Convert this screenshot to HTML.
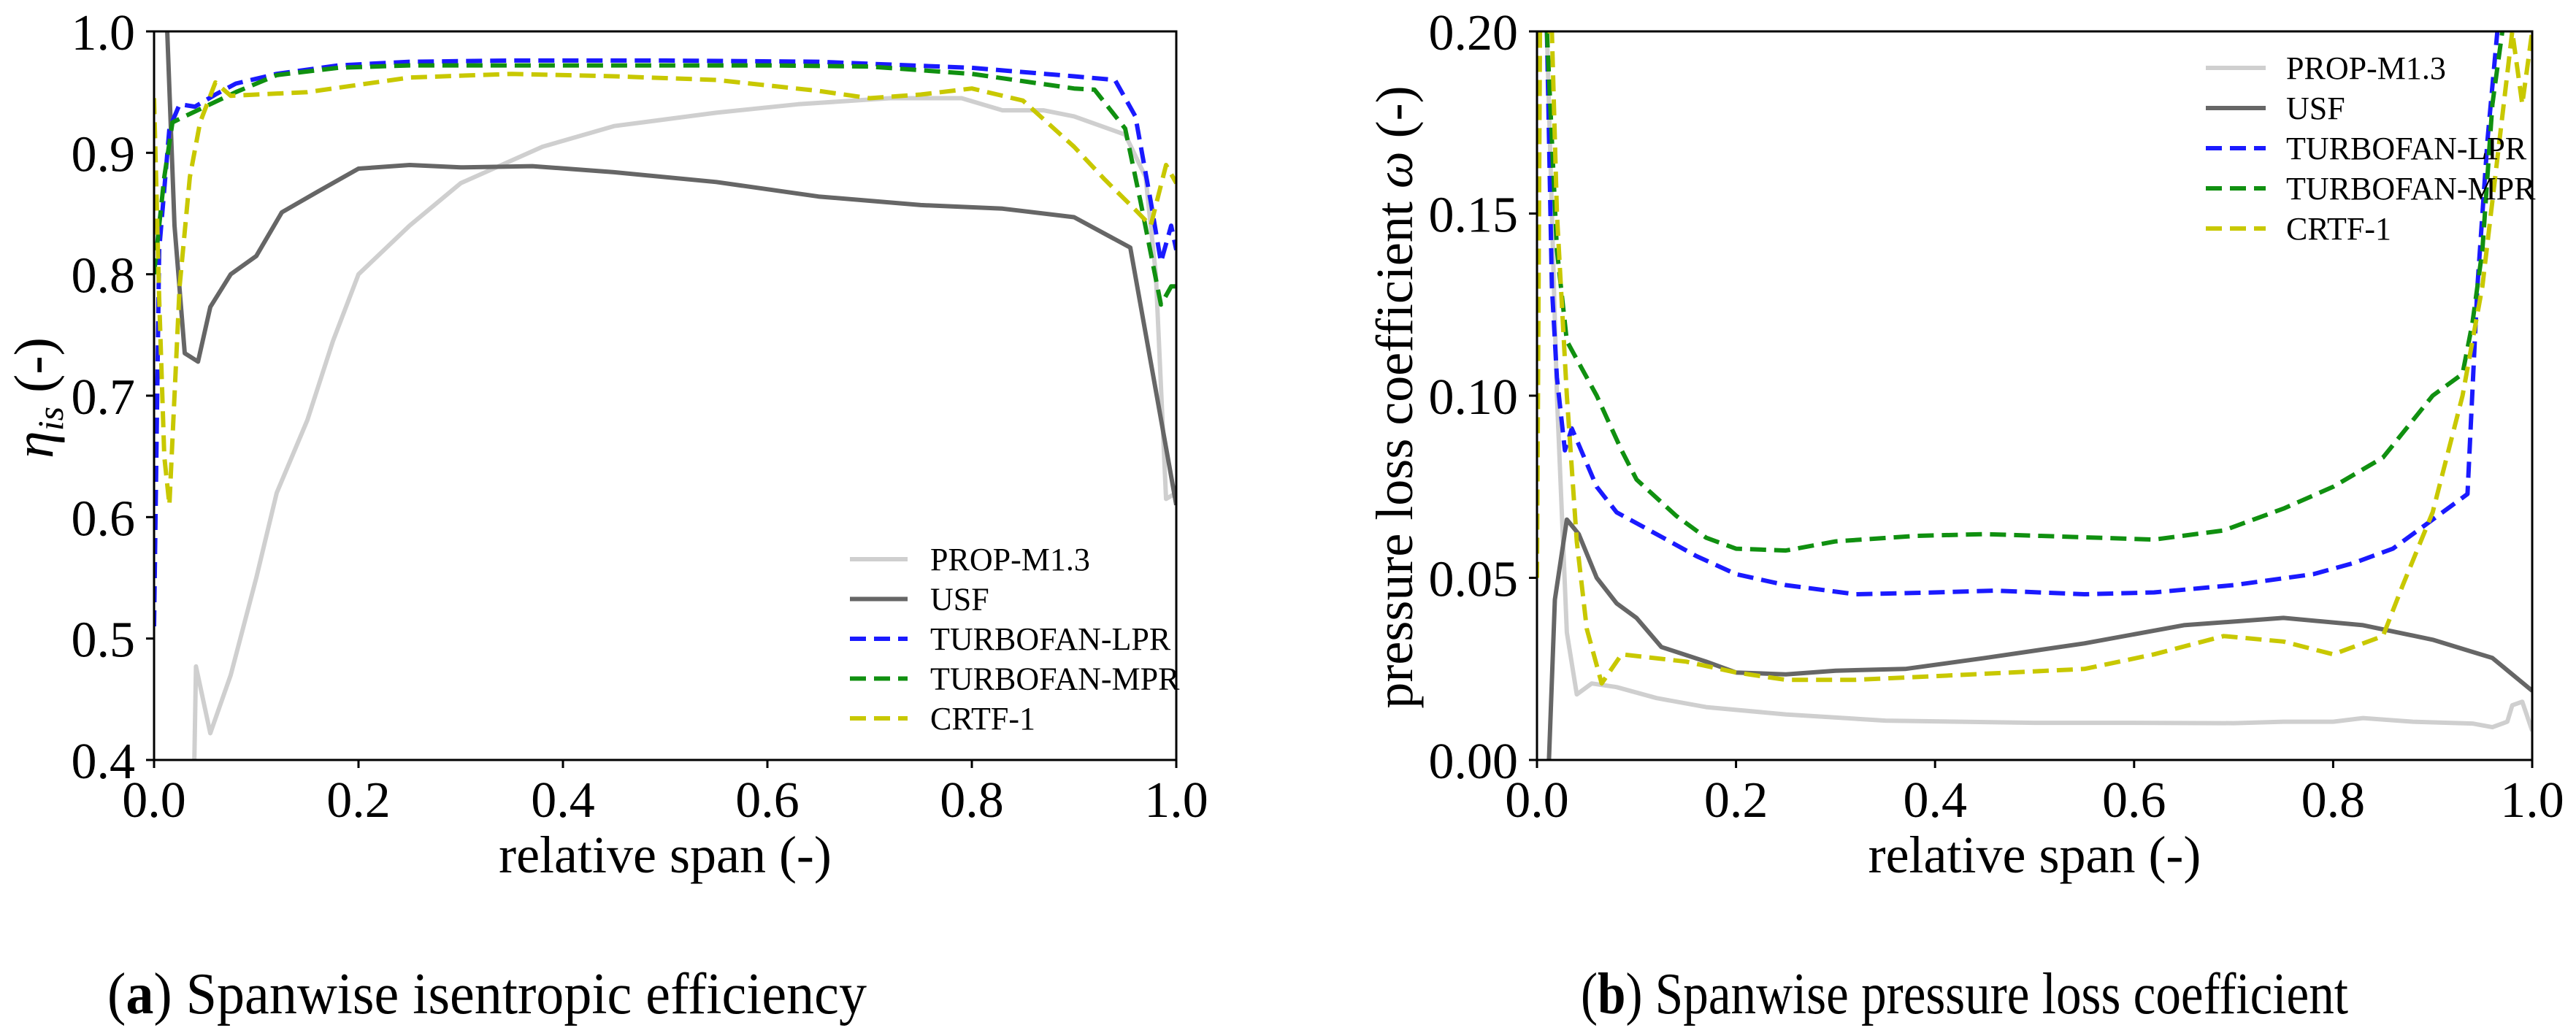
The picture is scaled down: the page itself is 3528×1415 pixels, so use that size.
<!DOCTYPE html>
<html><head><meta charset="utf-8"><style>
html,body{margin:0;padding:0;background:#fff;}
svg{display:block;font-family:"Liberation Serif",serif;}
</style></head><body>
<svg id="fig" width="3528" height="1415" viewBox="0 0 3528 1415">
<defs>
<clipPath id="clipA"><rect x="211" y="43" width="1400" height="998"/></clipPath>
<clipPath id="clipB"><rect x="2105" y="43" width="1363" height="998"/></clipPath>
</defs>
<g id="panelA"></g>
<g id="panelB"></g>
<text x="147" y="1388" font-size="80" textLength="1040" lengthAdjust="spacingAndGlyphs" font-family="Liberation Serif, serif">(<tspan font-weight="bold">a</tspan>) Spanwise isentropic efficiency</text>
<text x="2165" y="1388" font-size="80" textLength="1051" lengthAdjust="spacingAndGlyphs" font-family="Liberation Serif, serif">(<tspan font-weight="bold">b</tspan>) Spanwise pressure loss coefficient</text>
</svg>
<script>
const seriesNames = ["PROP-M1.3","USF","TURBOFAN-LPR","TURBOFAN-MPR","CRTF-1"];
const seriesColors = ["#cfcfcf","#666666","#1a1aff","#109010","#c8c800"];
const seriesDashed = [false,false,true,true,true];

const effProp = [[0.039,0.38],[0.041,0.477],[0.055,0.422],[0.075,0.47],[0.1,0.55],[0.12,0.62],[0.15,0.68],[0.175,0.745],[0.2,0.80],[0.25,0.84],[0.3,0.875],[0.38,0.905],[0.45,0.922],[0.55,0.933],[0.63,0.94],[0.72,0.945],[0.79,0.945],[0.83,0.935],[0.87,0.935],[0.9,0.93],[0.95,0.915],[0.97,0.88],[0.98,0.80],[0.99,0.615],[1.0,0.62]];
const effUsf = [[0.012,1.02],[0.02,0.84],[0.03,0.735],[0.043,0.728],[0.055,0.773],[0.075,0.80],[0.1,0.815],[0.125,0.851],[0.16,0.868],[0.2,0.887],[0.25,0.890],[0.3,0.888],[0.37,0.889],[0.45,0.884],[0.55,0.876],[0.65,0.864],[0.75,0.857],[0.83,0.854],[0.9,0.847],[0.955,0.822],[1.0,0.61]];
const effLpr = [[0.0,0.51],[0.005,0.82],[0.015,0.92],[0.025,0.94],[0.04,0.938],[0.06,0.948],[0.08,0.957],[0.12,0.965],[0.18,0.972],[0.25,0.975],[0.35,0.976],[0.5,0.976],[0.65,0.975],[0.8,0.970],[0.9,0.963],[0.94,0.960],[0.96,0.93],[0.975,0.86],[0.985,0.81],[0.995,0.84],[1.0,0.82]];
const effMpr = [[0.0,0.80],[0.01,0.88],[0.018,0.925],[0.03,0.93],[0.05,0.938],[0.08,0.95],[0.12,0.964],[0.18,0.970],[0.25,0.972],[0.4,0.972],[0.6,0.972],[0.7,0.971],[0.8,0.965],[0.9,0.953],[0.92,0.952],[0.95,0.92],[0.965,0.86],[0.985,0.775],[0.995,0.79],[1.0,0.79]];
const effCrtf = [[0.0,0.945],[0.005,0.78],[0.01,0.65],[0.015,0.61],[0.025,0.79],[0.035,0.88],[0.045,0.925],[0.06,0.958],[0.075,0.947],[0.1,0.948],[0.15,0.95],[0.2,0.956],[0.25,0.962],[0.35,0.965],[0.45,0.963],[0.55,0.96],[0.65,0.951],[0.7,0.945],[0.75,0.948],[0.8,0.953],[0.85,0.943],[0.9,0.905],[0.93,0.878],[0.96,0.853],[0.975,0.84],[0.99,0.89],[1.0,0.875]];

const lossProp = [[0.01,0.2],[0.02,0.10],[0.03,0.035],[0.04,0.018],[0.055,0.021],[0.08,0.020],[0.12,0.017],[0.17,0.0145],[0.25,0.0125],[0.35,0.0108],[0.5,0.0102],[0.6,0.0102],[0.7,0.0101],[0.75,0.0105],[0.8,0.0105],[0.83,0.0115],[0.88,0.0105],[0.94,0.010],[0.96,0.009],[0.975,0.0105],[0.98,0.015],[0.99,0.016],[1.0,0.008]];
const lossUsf = [[0.012,0.0],[0.018,0.044],[0.03,0.066],[0.042,0.062],[0.06,0.05],[0.08,0.043],[0.1,0.039],[0.125,0.031],[0.17,0.027],[0.2,0.024],[0.25,0.0235],[0.3,0.0245],[0.37,0.025],[0.45,0.028],[0.55,0.032],[0.65,0.037],[0.75,0.039],[0.83,0.037],[0.9,0.033],[0.96,0.028],[1.0,0.019]];
const lossLpr = [[0.01,0.2],[0.015,0.13],[0.02,0.105],[0.028,0.085],[0.035,0.091],[0.06,0.075],[0.08,0.068],[0.12,0.062],[0.16,0.056],[0.2,0.051],[0.25,0.048],[0.32,0.0455],[0.4,0.046],[0.46,0.0465],[0.55,0.0455],[0.62,0.046],[0.7,0.048],[0.78,0.051],[0.82,0.054],[0.86,0.058],[0.9,0.066],[0.935,0.073],[0.945,0.13],[0.955,0.17],[0.965,0.2]];
const lossMpr = [[0.01,0.2],[0.02,0.14],[0.03,0.115],[0.06,0.10],[0.085,0.085],[0.1,0.077],[0.14,0.067],[0.17,0.061],[0.2,0.058],[0.25,0.0575],[0.3,0.06],[0.38,0.0615],[0.45,0.062],[0.62,0.0605],[0.69,0.063],[0.75,0.069],[0.8,0.075],[0.85,0.083],[0.9,0.1],[0.93,0.106],[0.94,0.12],[0.95,0.14],[0.96,0.18],[0.97,0.2]];
const lossCrtf = [[0.0,0.05],[0.003,0.2],[0.015,0.2],[0.02,0.15],[0.03,0.10],[0.04,0.06],[0.05,0.036],[0.065,0.021],[0.085,0.029],[0.15,0.027],[0.2,0.024],[0.25,0.022],[0.32,0.022],[0.4,0.023],[0.55,0.025],[0.62,0.029],[0.69,0.034],[0.75,0.0325],[0.8,0.029],[0.85,0.034],[0.87,0.048],[0.9,0.068],[0.93,0.1],[0.95,0.13],[0.98,0.2],[0.99,0.18],[1.0,0.2]];

const xTicks = [0,0.2,0.4,0.6,0.8,1.0];
const xTickLabels = ["0.0","0.2","0.4","0.6","0.8","1.0"];
const effTicks = [0.4,0.5,0.6,0.7,0.8,0.9,1.0];
const effTickLabels = ["0.4","0.5","0.6","0.7","0.8","0.9","1.0"];
const lossTicks = [0,0.05,0.10,0.15,0.20];
const lossTickLabels = ["0.00","0.05","0.10","0.15","0.20"];

const NS="http://www.w3.org/2000/svg";
function mk(tag, attrs, parent){const e=document.createElementNS(NS,tag);for(const k in attrs)e.setAttribute(k,attrs[k]);parent.appendChild(e);return e;}

function drawPanel(g, box, yMin, yMax, yTicks, yLabels, data, clipId, legend, prefix){
  const sx=v=>box.x0+(v-0)/(1-0)*(box.x1-box.x0);
  const sy=v=>box.y1-(v-yMin)/(yMax-yMin)*(box.y1-box.y0);
  const series=mk('g',{'clip-path':'url(#'+clipId+')'},g);
  data.forEach((pts,i)=>{
    const d=pts.map((p,j)=>(j?'L':'M')+sx(p[0]).toFixed(1)+','+sy(p[1]).toFixed(1)).join(' ');
    const p=mk('path',{d:d,fill:'none',stroke:seriesColors[i],'stroke-width':6,'stroke-linejoin':'round'},series);
    if(seriesDashed[i]) p.setAttribute('stroke-dasharray','22,11');
    
    
  });
  const frame=mk('rect',{x:box.x0,y:box.y0,width:box.x1-box.x0,height:box.y1-box.y0,fill:'none',stroke:'#000','stroke-width':3},g);
  
  
  xTicks.forEach((t,i)=>{
    const x=sx(t);
    mk('line',{x1:x,x2:x,y1:box.y1,y2:box.y1+11,stroke:'#000','stroke-width':3},g);
    const tx=mk('text',{x:x,y:box.y1+78,'font-size':70,'text-anchor':'middle'},g);
    tx.textContent=xTickLabels[i];
    
    
  });
  yTicks.forEach((t,i)=>{
    const y=sy(t);
    mk('line',{x1:box.x0-11,x2:box.x0,y1:y,y2:y,stroke:'#000','stroke-width':3},g);
    const tx=mk('text',{x:box.x0-26,y:y+25,'font-size':70,'text-anchor':'end'},g);
    tx.textContent=yLabels[i];
    
    
  });
  const xt=mk('text',{x:(box.x0+box.x1)/2,y:1195,'font-size':72,'text-anchor':'middle'},g);
  xt.textContent='relative span (-)';
  
  
  const lg=mk('g',{},g);
  
  
  seriesNames.forEach((n,i)=>{
    const y=legend.y0+i*legend.dy;
    const ln=mk('line',{x1:legend.x0,x2:legend.x1,y1:y,y2:y,stroke:seriesColors[i],'stroke-width':6},lg);
    if(seriesDashed[i]) ln.setAttribute('stroke-dasharray','22,11');
    
    
    const t=mk('text',{x:legend.tx,y:y+15,'font-size':44},lg);
    t.textContent=n;
    
    
  });
}

const gA=document.getElementById('panelA');
drawPanel(gA,{x0:211,x1:1611,y0:43,y1:1041},0.4,1.0,effTicks,effTickLabels,[effProp,effUsf,effLpr,effMpr,effCrtf],'clipA',{x0:1164,x1:1243,tx:1274,y0:766,dy:54.5},'eff');
const ya=mk('text',{transform:'translate(72,545) rotate(-90)','font-size':76,'text-anchor':'middle'},gA);
ya.innerHTML='<tspan font-style="italic">η</tspan><tspan font-style="italic" font-size="50" dy="14">is</tspan><tspan dy="-14"> (-)</tspan>';



const gB=document.getElementById('panelB');
drawPanel(gB,{x0:2105,x1:3468,y0:43,y1:1041},0,0.2,lossTicks,lossTickLabels,[lossProp,lossUsf,lossLpr,lossMpr,lossCrtf],'clipB',{x0:3021,x1:3103,tx:3131,y0:93,dy:55},'loss');
const yb=mk('text',{transform:'translate(1934,544) rotate(-90)','font-size':72,'text-anchor':'middle'},gB);
yb.innerHTML='pressure loss coefficient <tspan font-style="italic">ω</tspan> (-)';


</script>
</body></html>
